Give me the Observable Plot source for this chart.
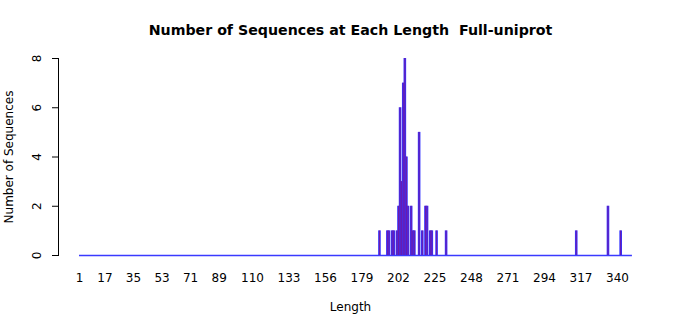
<!DOCTYPE html>
<html>
<head>
<meta charset="utf-8">
<script src="https://cdn.jsdelivr.net/npm/d3@7"></script>
<script src="https://cdn.jsdelivr.net/npm/@observablehq/plot@0.6"></script>
<style>
  html, body { margin: 0; padding: 0; background: #fff; }
  svg text { white-space: pre; }
</style>
</head>
<body>
<div id="chart"></div>
<script>
const title = "Number of Sequences at Each Length  Full-uniprot";
const xLabel = "Length";
const yLabel = "Number of Sequences";
const lengths = [190, 195, 196, 198, 199, 201, 202, 203, 204, 205, 206, 207, 208, 210, 211, 212, 215, 217, 219, 220, 222, 223, 226, 232, 314, 334, 342];
const counts  = [1,   1,   1,   1,   1,   1,   2,   6,   3,   7,   8,   4,   2,   2,   1,   1,   5,   1,   2,   2,   1,   1,   1,   1,   1,   2,   1];
const xTicks = [1, 17, 35, 53, 71, 89, 110, 133, 156, 179, 202, 225, 248, 271, 294, 317, 340];
const yTicks = [0, 2, 4, 6, 8];
const X_MIN = -12.23, X_MAX = 340, BASE_END = 349.4;

const data = lengths.map((l, i) => ({length: l, count: counts[i]}));

const chart = Plot.plot({
  width: 700,
  height: 315,
  marginTop: 58,
  marginBottom: 60,
  marginLeft: 58,
  marginRight: 83,
  style: {fontFamily: "DejaVu Sans", fontSize: "12px", color: "#000", background: "#fff"},
  x: {domain: [X_MIN, X_MAX], ticks: xTicks, tickSize: 0, tickPadding: 18, tickFormat: d => String(d), label: null},
  y: {domain: [0, 8], ticks: yTicks, tickSize: 6, tickRotate: -90, tickPadding: 12, label: null, line: true},
  marks: [
    Plot.ruleY([0], {x1: 1, x2: BASE_END, stroke: "#3a3aff", strokeWidth: 1.5}),
    Plot.ruleX(data, {x: "length", y1: 0, y2: "count", stroke: "#3333ff", strokeWidth: 2.6}),
    Plot.ruleX(data, {x: "length", y1: 0, y2: "count", stroke: "#b00050", strokeWidth: 1, strokeOpacity: 0.5}),
    Plot.text([title], {frameAnchor: "top", dx: 12.5, dy: -28, lineAnchor: "middle", fontWeight: "bold", fontSize: 14.2, text: d => d}),
    Plot.text([xLabel], {frameAnchor: "bottom", dx: 12.5, dy: 52, lineAnchor: "middle", fontSize: 12, text: d => d}),
    Plot.text([yLabel], {frameAnchor: "left", dx: -49, rotate: -90, textAnchor: "middle", lineAnchor: "middle", fontSize: 12, text: d => d})
  ]
});
document.getElementById("chart").appendChild(chart);
</script>
</body>
</html>
